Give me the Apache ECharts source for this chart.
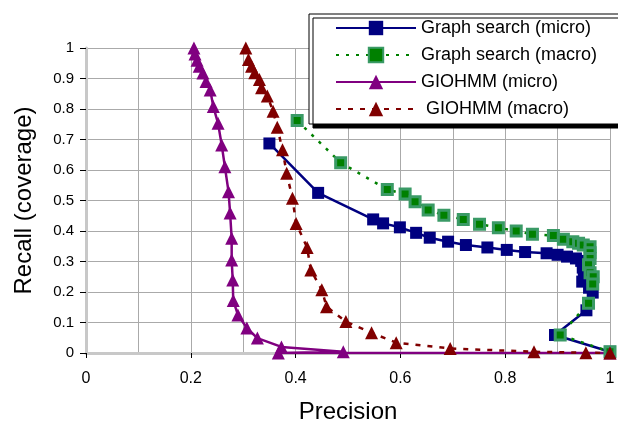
<!DOCTYPE html>
<html>
<head>
<meta charset="utf-8">
<script src="https://cdn.jsdelivr.net/npm/echarts@6/dist/echarts.min.js"></script>
<style>
  html, body { margin: 0; padding: 0; background: #fff; }
  #chart { width: 618px; height: 423px; }
</style>
</head>
<body>
<div id="chart"></div>
<script>
// recall vs precision: [precision, recall]
var seriesNames = ['Graph search (micro)', 'Graph search (macro)', 'GIOHMM (micro)', ' GIOHMM (macro)'];

var graphMicro = [
    [0.350, 0.687], [0.443, 0.525], [0.548, 0.438], [0.567, 0.425], [0.599, 0.412],
    [0.630, 0.394], [0.656, 0.378], [0.691, 0.365], [0.725, 0.354], [0.766, 0.346],
    [0.803, 0.338], [0.838, 0.331], [0.879, 0.327], [0.900, 0.322], [0.918, 0.316],
    [0.935, 0.310], [0.945, 0.302], [0.948, 0.280], [0.950, 0.260], [0.947, 0.234],
    [0.960, 0.214], [0.967, 0.198], [0.955, 0.140], [0.895, 0.059], [1.000, 0.004]
];
var graphMacro = [
    [0.403, 0.762], [0.486, 0.624], [0.575, 0.536], [0.609, 0.521], [0.628, 0.496],
    [0.653, 0.469], [0.683, 0.452], [0.720, 0.438], [0.751, 0.422], [0.787, 0.411],
    [0.821, 0.400], [0.852, 0.389], [0.892, 0.385], [0.911, 0.373], [0.929, 0.365],
    [0.940, 0.360], [0.949, 0.354], [0.962, 0.348], [0.962, 0.329], [0.962, 0.310],
    [0.959, 0.289], [0.962, 0.263], [0.968, 0.250], [0.967, 0.226], [0.959, 0.163],
    [0.905, 0.059], [1.000, 0.004]
];
var giohmmMicro = [
    [0.206, 1.000], [0.208, 0.980], [0.212, 0.960], [0.216, 0.940], [0.223, 0.918],
    [0.229, 0.890], [0.237, 0.862], [0.243, 0.808], [0.252, 0.753], [0.259, 0.682],
    [0.265, 0.611], [0.272, 0.529], [0.275, 0.459], [0.278, 0.376], [0.278, 0.305],
    [0.280, 0.239], [0.281, 0.172], [0.290, 0.125], [0.307, 0.082], [0.327, 0.049],
    [0.373, 0.020], [0.491, 0.004], [0.367, 0.000], [1.000, 0.000]
];
var giohmmMacro = [
    [0.305, 1.000], [0.310, 0.962], [0.316, 0.940], [0.322, 0.919], [0.331, 0.897],
    [0.335, 0.870], [0.346, 0.843], [0.357, 0.793], [0.365, 0.740], [0.375, 0.666],
    [0.383, 0.589], [0.394, 0.507], [0.401, 0.425], [0.422, 0.346], [0.429, 0.272],
    [0.450, 0.207], [0.459, 0.152], [0.496, 0.103], [0.545, 0.066], [0.592, 0.034],
    [0.695, 0.015], [0.855, 0.004], [0.954, 0.001], [1.000, 0.000]
];

var font = 'Liberation Sans, Arial, sans-serif';
var gridColor = '#aaaaaa';

var myChart = echarts.init(document.getElementById('chart'), null, { renderer: 'canvas' });
var option = {
    animation: false,
    backgroundColor: '#fff',
    grid: {
        left: 86,
        right: 8,
        top: 48,
        bottom: 70,
        containLabel: false,
        outerBoundsMode: 'none'
    },
    legend: {
        left: 309,
        top: 14,
        orient: 'vertical',
        padding: [5, 40, 6, 26],
        itemWidth: 80,
        itemHeight: 18,
        itemGap: 9,
        backgroundColor: '#fff',
        borderColor: '#000',
        borderWidth: 1,
        borderRadius: 0,
        shadowColor: '#000',
        shadowBlur: 0,
        shadowOffsetX: 4,
        shadowOffsetY: 4,
        textStyle: {
            fontFamily: font,
            fontSize: 18,
            color: '#000'
        },
        data: seriesNames
    },
    xAxis: [
        {
            type: 'value',
            min: 0,
            max: 1,
            interval: 0.2,
            name: 'Precision',
            nameLocation: 'middle',
            nameGap: 47,
            nameTextStyle: { fontFamily: font, fontSize: 24, color: '#000' },
            axisLine: { show: true, onZero: false, lineStyle: { color: '#000', width: 1 } },
            axisTick: { show: true, length: 5, lineStyle: { color: '#000' } },
            axisLabel: { fontFamily: font, fontSize: 16, color: '#000', margin: 18 },
            splitLine: { show: true, lineStyle: { color: gridColor, width: 1 } },
            minorTick: { show: false, splitNumber: 2 },
            minorSplitLine: { show: true, lineStyle: { color: gridColor, width: 1 } }
        },
        {
            // top frame line
            type: 'value',
            position: 'top',
            min: 0,
            max: 1,
            axisLine: { show: true, lineStyle: { color: '#c8c8c8', width: 3 } },
            axisTick: { show: false },
            axisLabel: { show: false },
            splitLine: { show: false }
        }
    ],
    yAxis: [
        {
            type: 'value',
            min: 0,
            max: 1,
            interval: 0.1,
            name: 'Recall (coverage)',
            nameLocation: 'middle',
            nameGap: 50,
            nameTextStyle: { fontFamily: font, fontSize: 24, color: '#000' },
            axisLine: { show: true, onZero: false, lineStyle: { color: '#000', width: 1 } },
            axisTick: { show: true, length: 6, lineStyle: { color: '#000' } },
            axisLabel: { fontFamily: font, fontSize: 15, color: '#000', margin: 12 },
            splitLine: { show: true, lineStyle: { color: gridColor, width: 1 } }
        },
        {
            // right frame line
            type: 'value',
            position: 'right',
            min: 0,
            max: 1,
            axisLine: { show: true, lineStyle: { color: '#c8c8c8', width: 3 } },
            axisTick: { show: false },
            axisLabel: { show: false },
            splitLine: { show: false }
        }
    ],
    series: [
        {
            name: seriesNames[0],
            type: 'line',
            data: graphMicro,
            symbol: 'rect',
            symbolSize: 12,
            itemStyle: { color: '#000080' },
            lineStyle: { color: '#000080', width: 2.5, type: 'solid' }
        },
        {
            name: seriesNames[1],
            type: 'line',
            data: graphMacro,
            symbol: 'rect',
            symbolSize: 10,
            itemStyle: { color: '#008000', borderColor: '#3a9a66', borderWidth: 3 },
            lineStyle: { color: '#008000', width: 2.5, type: [3, 7] }
        },
        {
            name: seriesNames[2],
            type: 'line',
            data: giohmmMicro,
            symbol: 'triangle',
            symbolSize: 13,
            itemStyle: { color: '#800080' },
            lineStyle: { color: '#800080', width: 2.5, type: 'solid' }
        },
        {
            name: seriesNames[3],
            type: 'line',
            data: giohmmMacro,
            symbol: 'triangle',
            symbolSize: 13,
            itemStyle: { color: '#800000' },
            lineStyle: { color: '#800000', width: 2.5, type: [5, 7] }
        }
    ]
};
myChart.setOption(option);
</script>
</body>
</html>
